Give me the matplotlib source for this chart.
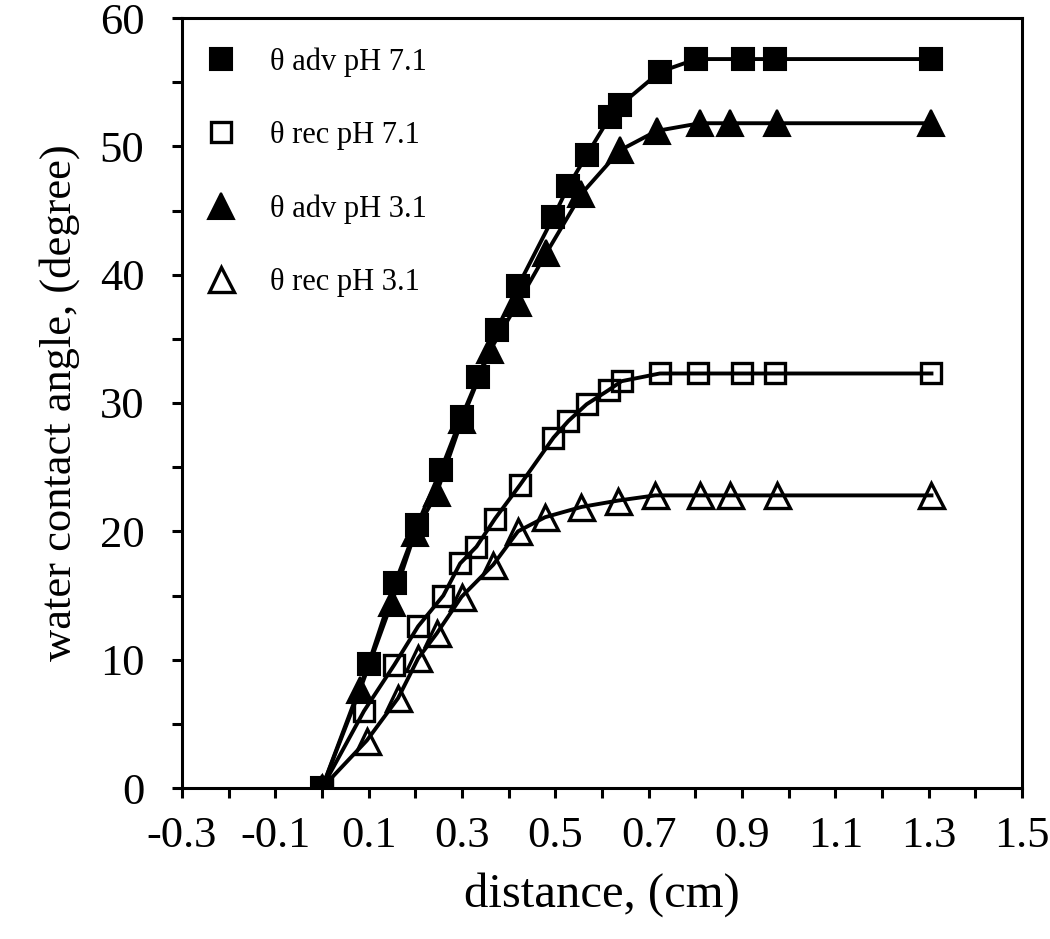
import matplotlib
matplotlib.use("Agg")
import matplotlib.pyplot as plt
from matplotlib.ticker import MultipleLocator, FixedLocator

plt.rcParams['font.family'] = ['Liberation Serif', 'DejaVu Serif']

labels = ["θ adv pH 7.1", "θ rec pH 7.1", "θ adv pH 3.1", "θ rec pH 3.1"]

adv71_x = [0, 0.10, 0.157, 0.204, 0.255, 0.299, 0.335, 0.374, 0.42, 0.496, 0.528, 0.567, 0.617, 0.639, 0.724, 0.802, 0.903, 0.971, 1.306]
adv71_y = [0, 9.7, 16.0, 20.5, 24.8, 28.9, 32.0, 35.7, 39.1, 44.5, 46.9, 49.3, 52.3, 53.2, 55.8, 56.8, 56.8, 56.8, 56.8]

rec71_x = [0, 0.09, 0.155, 0.206, 0.26, 0.296, 0.331, 0.371, 0.424, 0.496, 0.528, 0.567, 0.614, 0.642, 0.724, 0.806, 0.899, 0.971, 1.306]
rec71_y = [0, 6.0, 9.6, 12.6, 15.0, 17.5, 18.8, 21.0, 23.6, 27.3, 28.6, 29.9, 31.0, 31.7, 32.3, 32.3, 32.3, 32.3, 32.3]

adv31_x = [0, 0.081, 0.149, 0.199, 0.246, 0.30, 0.36, 0.42, 0.481, 0.556, 0.639, 0.717, 0.81, 0.874, 0.974, 1.306]
adv31_y = [0, 7.6, 14.4, 19.85, 23.0, 28.7, 34.1, 37.8, 41.7, 46.3, 49.7, 51.2, 51.8, 51.8, 51.8, 51.8]

rec31_x = [0, 0.096, 0.163, 0.206, 0.246, 0.299, 0.367, 0.42, 0.478, 0.556, 0.635, 0.714, 0.81, 0.874, 0.974, 1.306]
rec31_y = [0, 3.7, 7.0, 10.1, 12.05, 14.9, 17.4, 20.0, 21.1, 21.9, 22.4, 22.8, 22.8, 22.8, 22.8, 22.8]

x_ticklabels = ["-0.3", "-0.1", "0.1", "0.3", "0.5", "0.7", "0.9", "1.1", "1.3", "1.5"]
y_ticklabels = ["0", "10", "20", "30", "40", "50", "60"]

fig = plt.figure(figsize=(10.5, 9.39), dpi=100)
ax = fig.add_axes([182/1050, 151/939, 840/1050, 770/939])

lw = 2.8
ax.plot(adv71_x, adv71_y, '-', color='black', lw=lw, marker='s', ms=16, mfc='black', mec='black', mew=1.5, label=labels[0], zorder=4)
ax.plot(rec71_x, rec71_y, '-', color='black', lw=lw, marker='s', ms=15, mfc='none', mec='black', mew=2.4, label=labels[1], zorder=3)
ax.plot(adv31_x, adv31_y, '-', color='black', lw=lw, marker='^', ms=19, mfc='black', mec='black', mew=1.5, label=labels[2], zorder=4)
ax.plot(rec31_x, rec31_y, '-', color='black', lw=lw, marker='^', ms=18, mfc='none', mec='black', mew=2.4, label=labels[3], zorder=3)

ax.set_xlim(-0.3, 1.5)
ax.set_ylim(0, 60)
ax.xaxis.set_major_locator(FixedLocator([float(s) for s in x_ticklabels]))
ax.set_xticklabels(x_ticklabels)
ax.xaxis.set_minor_locator(MultipleLocator(0.1))
ax.yaxis.set_major_locator(FixedLocator([float(s) for s in y_ticklabels]))
ax.set_yticklabels(y_ticklabels)
ax.yaxis.set_minor_locator(MultipleLocator(5))

ax.tick_params(which='both', direction='out', width=2.2, length=7, labelsize=32)
ax.tick_params(axis='x', which='both', pad=13)
ax.tick_params(axis='y', which='both', pad=20)
for s in ax.spines.values():
    s.set_linewidth(2.2)

ax.set_xlabel("distance, (cm)", fontsize=35, labelpad=12)
ax.set_ylabel("water contact angle, (degree)", fontsize=32, labelpad=14)

leg = ax.legend(loc='upper left', frameon=False, fontsize=22, labelspacing=1.45,
                handlelength=1.0, handletextpad=1.1, borderaxespad=0.3,
                bbox_to_anchor=(0.003, 0.99))
for h in leg.get_lines():
    h.set_linestyle('none')

fig.savefig("out.png", dpi=100)
